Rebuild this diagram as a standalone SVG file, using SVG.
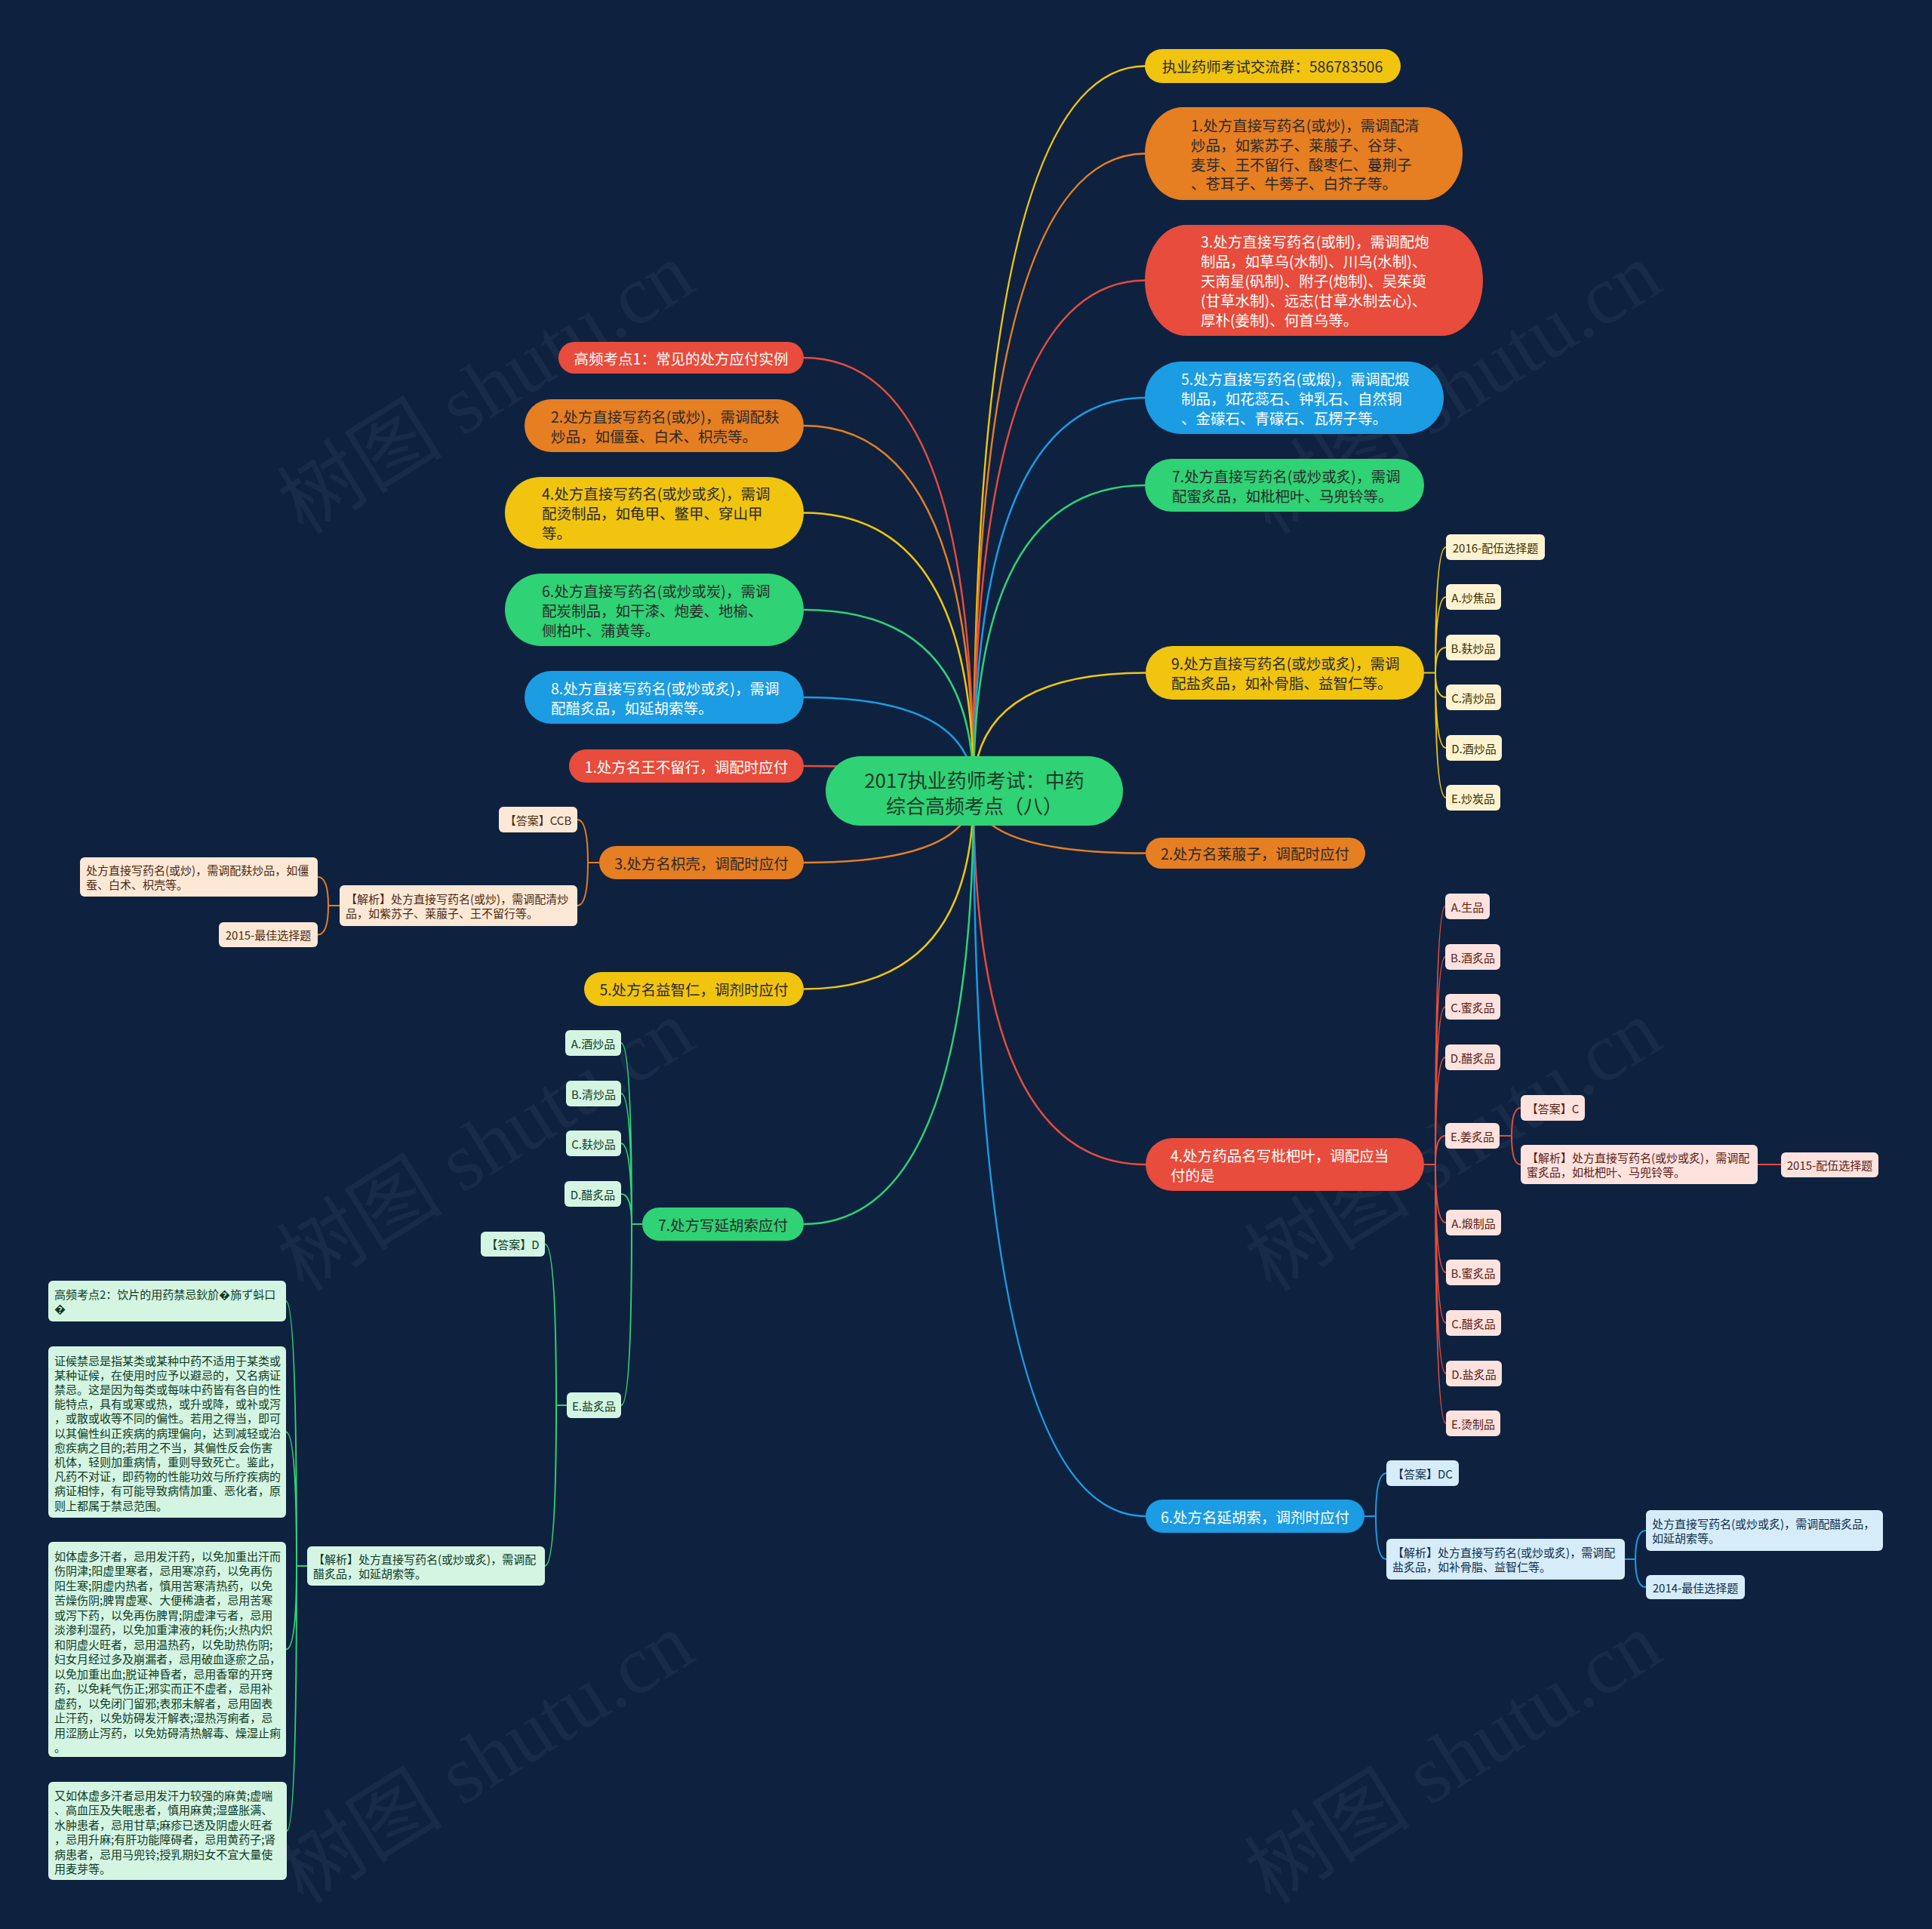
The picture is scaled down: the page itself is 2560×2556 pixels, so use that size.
<svg xmlns="http://www.w3.org/2000/svg" width="2560" height="2556" viewBox="0 0 2560 2556">
<style>
text{font-family:"Noto Sans CJK SC","Liberation Sans",sans-serif;dominant-baseline:central}
.c{fill:none;stroke-width:2.5}
.s{fill:none;stroke-width:2}
.cy{stroke:#f1c40f}.co{stroke:#e67e22}.cr{stroke:#e74c3c}.cb{stroke:#1b9ce3}.cg{stroke:#2fd275}
.fy{fill:#f1c40f}.fo{fill:#e67e22}.fr{fill:#e74c3c}.fb{fill:#1b9ce3}.fg{fill:#2fd275}
.m{font-size:19.5px}.dk{fill:#2a2a2a}.wh{fill:#ffffff}
.mid{text-anchor:middle}
.sub{font-size:15px}
.ly{fill:#fdf3d1}.lo{fill:#fde8d6}.lr{fill:#fde2de}.lb{fill:#d6ecf9}.lg{fill:#d5f5e3}
.ty{fill:#3b3000}.to{fill:#4a2a12}.tr{fill:#5a1c14}.tb{fill:#0d2f4d}.tg{fill:#0d3b24}
.wm{font-family:"Liberation Serif","Noto Sans CJK SC",serif;font-size:110px;fill:#ffffff;fill-opacity:0.045}
</style>
<rect width="2560" height="2556" fill="#0e2240"/>
<g id="watermarks">
<text class="wm mid" transform="translate(644,515) rotate(-32)">树图 shutu.cn</text>
<text class="wm mid" transform="translate(1926,515) rotate(-32)">树图 shutu.cn</text>
<text class="wm mid" transform="translate(644,1518) rotate(-32)">树图 shutu.cn</text>
<text class="wm mid" transform="translate(1926,1518) rotate(-32)">树图 shutu.cn</text>
<text class="wm mid" transform="translate(644,2330) rotate(-32)">树图 shutu.cn</text>
<text class="wm mid" transform="translate(1926,2330) rotate(-32)">树图 shutu.cn</text>
</g>
<g id="connectors">
<path class="c cy" d="M1290,1048 Q1290,87.5 1518,87.5"/>
<path class="c co" d="M1290,1048 Q1290,203.5 1518,203.5"/>
<path class="c cr" d="M1290,1048 Q1290,371.5 1518,371.5"/>
<path class="c cb" d="M1290,1048 Q1290,527 1518,527"/>
<path class="c cg" d="M1290,1048 Q1290,643 1518,643"/>
<path class="c cy" d="M1290,1048 Q1290,891.5 1518,891.5"/>
<path class="c co" d="M1290,1048 Q1290,1130.5 1518,1130.5"/>
<path class="c cr" d="M1290,1048 Q1290,1543 1518,1543"/>
<path class="c cb" d="M1290,1048 Q1290,2009 1518,2009"/>
<path class="c cr" d="M1290,1048 Q1290,474 1065,474"/>
<path class="c co" d="M1290,1048 Q1290,564 1065,564"/>
<path class="c cy" d="M1290,1048 Q1290,679.5 1065,679.5"/>
<path class="c cg" d="M1290,1048 Q1290,808 1065,808"/>
<path class="c cb" d="M1290,1048 Q1290,924 1065,924"/>
<path class="c cr" d="M1290,1048 Q1290,1015 1065,1015"/>
<path class="c co" d="M1290,1048 Q1290,1143 1065,1143"/>
<path class="c cy" d="M1290,1048 Q1290,1310.5 1065,1310.5"/>
<path class="c cg" d="M1290,1048 Q1290,1622 1065,1622"/>
<path class="s cy" d="M1887,891.5 H1902 M1902,891.5 Q1902,725 1916,725 M1902,891.5 Q1902,791 1916,791 M1902,891.5 Q1902,858 1916,858 M1902,891.5 Q1902,924 1916,924 M1902,891.5 Q1902,991 1916,991 M1902,891.5 Q1902,1057 1916,1057"/>
<path class="s cr" d="M1887,1543 H1902 M1902,1543 Q1902,1201 1915,1201 M1902,1543 Q1902,1268 1915,1268 M1902,1543 Q1902,1334 1915,1334 M1902,1543 Q1902,1401 1915,1401 M1902,1543 Q1902,1505 1915,1505 M1902,1543 Q1902,1620 1916,1620 M1902,1543 Q1902,1686 1916,1686 M1902,1543 Q1902,1753 1916,1753 M1902,1543 Q1902,1820 1916,1820 M1902,1543 Q1902,1886 1916,1886"/>
<path class="s cr" d="M1987,1505 H2003 M2003,1505 Q2003,1468 2015,1468 M2003,1505 Q2003,1543 2015,1543 M2329,1543 H2360"/>
<path class="s cb" d="M1808,2009 H1823 M1823,2009 Q1823,1952 1837,1952 M1823,2009 Q1823,2066 1837,2066"/>
<path class="s cb" d="M2153,2066 H2167 M2167,2066 Q2167,2028 2181,2028 M2167,2066 Q2167,2103 2181,2103"/>
<path class="s co" d="M794,1143 H779 M779,1143 Q779,1086 765,1086 M779,1143 Q779,1200 765,1200"/>
<path class="s co" d="M450,1200 H435 M435,1200 Q435,1162 421,1162 M435,1200 Q435,1238.5 421,1238.5"/>
<path class="s cg" d="M851,1622 H837 M837,1622 Q837,1382 823,1382 M837,1622 Q837,1449 823,1449 M837,1622 Q837,1515 823,1515 M837,1622 Q837,1582 823,1582 M837,1622 Q837,1862 823,1862"/>
<path class="s cg" d="M751,1862 H737 M737,1862 Q737,1648.5 722,1648.5 M737,1862 Q737,2075 722,2075"/>
<path class="s cg" d="M407,2075 H393 M393,2075 Q393,1724 379,1724 M393,2075 Q393,1897.5 379,1897.5 M393,2075 Q393,2185.5 379,2185.5 M393,2075 Q393,2426 380,2426"/>
</g>

<g id="center">
<rect x="1094" y="1002" width="394" height="92" rx="46" class="fg"/>
<text x="1291" y="1032" class="mid" font-size="26" fill="#1d3a28">2017执业药师考试：中药</text>
<text x="1291" y="1066" class="mid" font-size="26" fill="#1d3a28">综合高频考点（八）</text>
</g>

<g id="r1"><rect x="1517" y="65" width="339" height="45" rx="22.5" class="fy"/>
<text x="1686" y="87.5" class="m dk mid">执业药师考试交流群：586783506</text></g>
<g id="r2"><rect x="1517" y="142" width="421" height="123" rx="50" ry="61.5" class="fo"/>
<text x="1578" y="165" class="m dk">1.处方直接写药名(或炒)，需调配清</text>
<text x="1578" y="191" class="m dk">炒品，如紫苏子、莱菔子、谷芽、</text>
<text x="1578" y="217" class="m dk">麦芽、王不留行、酸枣仁、蔓荆子</text>
<text x="1578" y="242" class="m dk">、苍耳子、牛蒡子、白芥子等。</text></g>
<g id="r3"><rect x="1517" y="298" width="448" height="147" rx="55" ry="73.5" class="fr"/>
<text x="1591" y="319.5" class="m wh">3.处方直接写药名(或制)，需调配炮</text>
<text x="1591" y="345.5" class="m wh">制品，如草乌(水制)、川乌(水制)、</text>
<text x="1591" y="371.5" class="m wh">天南星(矾制)、附子(炮制)、吴茱萸</text>
<text x="1591" y="397.5" class="m wh">(甘草水制)、远志(甘草水制去心)、</text>
<text x="1591" y="423.5" class="m wh">厚朴(姜制)、何首乌等。</text></g>
<g id="r4"><rect x="1517" y="479" width="396" height="96" rx="48" class="fb"/>
<text x="1565" y="501" class="m wh">5.处方直接写药名(或煅)，需调配煅</text>
<text x="1565" y="527" class="m wh">制品，如花蕊石、钟乳石、自然铜</text>
<text x="1565" y="553" class="m wh">、金礞石、青礞石、瓦楞子等。</text></g>
<g id="r5"><rect x="1517" y="608" width="370" height="70" rx="35" class="fg"/>
<text x="1553" y="630" class="m dk">7.处方直接写药名(或炒或炙)，需调</text>
<text x="1553" y="656" class="m dk">配蜜炙品，如枇杷叶、马兜铃等。</text></g>
<g id="r6"><rect x="1518" y="856" width="369" height="71" rx="35.5" class="fy"/>
<text x="1552" y="878.5" class="m dk">9.处方直接写药名(或炒或炙)，需调</text>
<text x="1552" y="904.5" class="m dk">配盐炙品，如补骨脂、益智仁等。</text></g>
<g id="r7"><rect x="1518" y="1110" width="291" height="41" rx="20.5" class="fo"/>
<text x="1663" y="1130.5" class="m dk mid">2.处方名莱菔子，调配时应付</text></g>
<g id="r8"><rect x="1518" y="1508" width="369" height="70" rx="35" class="fr"/>
<text x="1551" y="1530" class="m wh">4.处方药品名写枇杷叶，调配应当</text>
<text x="1551" y="1556" class="m wh">付的是</text></g>
<g id="r9"><rect x="1518" y="1987" width="290" height="44" rx="22" class="fb"/>
<text x="1663" y="2009" class="m wh mid">6.处方名延胡索，调剂时应付</text></g>

<g id="l1"><rect x="740" y="453" width="325" height="42" rx="21" class="fr"/>
<text x="902.5" y="474" class="m wh mid">高频考点1：常见的处方应付实例</text></g>
<g id="l2"><rect x="695" y="529" width="370" height="70" rx="35" class="fo"/>
<text x="730" y="551" class="m dk">2.处方直接写药名(或炒)，需调配麸</text>
<text x="730" y="577" class="m dk">炒品，如僵蚕、白术、枳壳等。</text></g>
<g id="l3"><rect x="669" y="632" width="396" height="95" rx="47.5" class="fy"/>
<text x="718" y="653.5" class="m dk">4.处方直接写药名(或炒或炙)，需调</text>
<text x="718" y="679.5" class="m dk">配烫制品，如龟甲、鳖甲、穿山甲</text>
<text x="718" y="705.5" class="m dk">等。</text></g>
<g id="l4"><rect x="669" y="760" width="396" height="96" rx="48" class="fg"/>
<text x="718" y="782" class="m dk">6.处方直接写药名(或炒或炭)，需调</text>
<text x="718" y="808" class="m dk">配炭制品，如干漆、炮姜、地榆、</text>
<text x="718" y="834" class="m dk">侧柏叶、蒲黄等。</text></g>
<g id="l5"><rect x="695" y="889" width="370" height="70" rx="35" class="fb"/>
<text x="730" y="911" class="m wh">8.处方直接写药名(或炒或炙)，需调</text>
<text x="730" y="937" class="m wh">配醋炙品，如延胡索等。</text></g>
<g id="l6"><rect x="754" y="993" width="311" height="44" rx="22" class="fr"/>
<text x="909.5" y="1015" class="m wh mid">1.处方名王不留行，调配时应付</text></g>
<g id="l7"><rect x="794" y="1121" width="271" height="44" rx="22" class="fo"/>
<text x="929.5" y="1143" class="m dk mid">3.处方名枳壳，调配时应付</text></g>
<g id="l8"><rect x="774" y="1288" width="291" height="45" rx="22.5" class="fy"/>
<text x="919.5" y="1310.5" class="m dk mid">5.处方名益智仁，调剂时应付</text></g>
<g id="l9"><rect x="851" y="1600" width="214" height="44" rx="22" class="fg"/>
<text x="958" y="1622" class="m dk mid">7.处方写延胡索应付</text></g>

<g id="r6a"><rect x="1916" y="708" width="131" height="34" rx="6" class="ly"/><text x="1981.5" y="725" class="sub ty mid">2016-配伍选择题</text></g>
<g id="r6b"><rect x="1916" y="774" width="73" height="34" rx="6" class="ly"/><text x="1952.5" y="791" class="sub ty mid">A.炒焦品</text></g>
<g id="r6c"><rect x="1916" y="841" width="72" height="34" rx="6" class="ly"/><text x="1952" y="858" class="sub ty mid">B.麸炒品</text></g>
<g id="r6d"><rect x="1916" y="907" width="73" height="34" rx="6" class="ly"/><text x="1952.5" y="924" class="sub ty mid">C.清炒品</text></g>
<g id="r6e"><rect x="1916" y="974" width="74" height="34" rx="6" class="ly"/><text x="1953" y="991" class="sub ty mid">D.酒炒品</text></g>
<g id="r6f"><rect x="1916" y="1040" width="72" height="34" rx="6" class="ly"/><text x="1952" y="1057" class="sub ty mid">E.炒炭品</text></g>

<g id="r8a"><rect x="1915" y="1184" width="59" height="34" rx="6" class="lr"/><text x="1944.5" y="1201" class="sub tr mid">A.生品</text></g>
<g id="r8b"><rect x="1915" y="1251" width="73" height="34" rx="6" class="lr"/><text x="1951.5" y="1268" class="sub tr mid">B.酒炙品</text></g>
<g id="r8c"><rect x="1915" y="1317" width="73" height="34" rx="6" class="lr"/><text x="1951.5" y="1334" class="sub tr mid">C.蜜炙品</text></g>
<g id="r8d"><rect x="1915" y="1384" width="73" height="34" rx="6" class="lr"/><text x="1951.5" y="1401" class="sub tr mid">D.醋炙品</text></g>
<g id="r8e"><rect x="1915" y="1488" width="72" height="34" rx="6" class="lr"/><text x="1951" y="1505" class="sub tr mid">E.姜炙品</text></g>
<g id="r8e1"><rect x="2015" y="1451" width="85" height="34" rx="6" class="lr"/><text x="2057.5" y="1468" class="sub tr mid">【答案】C</text></g>
<g id="r8e2"><rect x="2015" y="1517" width="314" height="52" rx="6" class="lr"/>
<text x="2023" y="1533.5" class="sub tr">【解析】处方直接写药名(或炒或炙)，需调配</text>
<text x="2023" y="1552.5" class="sub tr">蜜炙品，如枇杷叶、马兜铃等。</text></g>
<g id="r8e3"><rect x="2360" y="1527" width="129" height="33" rx="6" class="lr"/><text x="2424.5" y="1543.5" class="sub tr mid">2015-配伍选择题</text></g>
<g id="r8f"><rect x="1916" y="1603" width="73" height="34" rx="6" class="lr"/><text x="1952.5" y="1620" class="sub tr mid">A.煅制品</text></g>
<g id="r8g"><rect x="1916" y="1669" width="72" height="34" rx="6" class="lr"/><text x="1952" y="1686" class="sub tr mid">B.蜜炙品</text></g>
<g id="r8h"><rect x="1916" y="1736" width="73" height="34" rx="6" class="lr"/><text x="1952.5" y="1753" class="sub tr mid">C.醋炙品</text></g>
<g id="r8i"><rect x="1916" y="1803" width="74" height="34" rx="6" class="lr"/><text x="1953" y="1820" class="sub tr mid">D.盐炙品</text></g>
<g id="r8j"><rect x="1916" y="1869" width="72" height="34" rx="6" class="lr"/><text x="1952" y="1886" class="sub tr mid">E.烫制品</text></g>

<g id="r9a"><rect x="1837" y="1935" width="96" height="34" rx="6" class="lb"/><text x="1885" y="1952" class="sub tb mid">【答案】DC</text></g>
<g id="r9b"><rect x="1837" y="2039" width="316" height="54" rx="6" class="lb"/>
<text x="1845" y="2056.5" class="sub tb">【解析】处方直接写药名(或炒或炙)，需调配</text>
<text x="1845" y="2075.5" class="sub tb">盐炙品，如补骨脂、益智仁等。</text></g>
<g id="r9c"><rect x="2181" y="2001" width="314" height="54" rx="6" class="lb"/>
<text x="2189" y="2018.5" class="sub tb">处方直接写药名(或炒或炙)，需调配醋炙品，</text>
<text x="2189" y="2037.5" class="sub tb">如延胡索等。</text></g>
<g id="r9d"><rect x="2181" y="2087" width="131" height="32" rx="6" class="lb"/><text x="2246.5" y="2103" class="sub tb mid">2014-最佳选择题</text></g>

<g id="l7a"><rect x="661" y="1069" width="104" height="34" rx="6" class="lo"/><text x="713" y="1086" class="sub to mid">【答案】CCB</text></g>
<g id="l7b"><rect x="450" y="1173" width="315" height="54" rx="6" class="lo"/>
<text x="458" y="1190.5" class="sub to">【解析】处方直接写药名(或炒)，需调配清炒</text>
<text x="458" y="1209.5" class="sub to">品，如紫苏子、莱菔子、王不留行等。</text></g>
<g id="l7c"><rect x="106" y="1136" width="315" height="52" rx="6" class="lo"/>
<text x="114" y="1152.5" class="sub to">处方直接写药名(或炒)，需调配麸炒品，如僵</text>
<text x="114" y="1171.5" class="sub to">蚕、白术、枳壳等。</text></g>
<g id="l7d"><rect x="290" y="1222" width="131" height="33" rx="6" class="lo"/><text x="355.5" y="1238.5" class="sub to mid">2015-最佳选择题</text></g>

<g id="l9a"><rect x="749" y="1365" width="74" height="34" rx="6" class="lg"/><text x="786" y="1382" class="sub tg mid">A.酒炒品</text></g>
<g id="l9b"><rect x="750" y="1432" width="73" height="34" rx="6" class="lg"/><text x="786.5" y="1449" class="sub tg mid">B.清炒品</text></g>
<g id="l9c"><rect x="750" y="1498" width="73" height="34" rx="6" class="lg"/><text x="786.5" y="1515" class="sub tg mid">C.麸炒品</text></g>
<g id="l9d"><rect x="748" y="1565" width="75" height="34" rx="6" class="lg"/><text x="785.5" y="1582" class="sub tg mid">D.醋炙品</text></g>
<g id="l9e"><rect x="751" y="1845" width="72" height="34" rx="6" class="lg"/><text x="787" y="1862" class="sub tg mid">E.盐炙品</text></g>
<g id="l9e1"><rect x="637" y="1632" width="85" height="33" rx="6" class="lg"/><text x="679.5" y="1648.5" class="sub tg mid">【答案】D</text></g>
<g id="l9e2"><rect x="407" y="2049" width="315" height="52" rx="6" class="lg"/>
<text x="415" y="2065.5" class="sub tg">【解析】处方直接写药名(或炒或炙)，需调配</text>
<text x="415" y="2084.5" class="sub tg">醋炙品，如延胡索等。</text></g>
<g id="l9f1"><rect x="64" y="1697" width="315" height="54" rx="6" class="lg"/>
<text x="72" y="1714.5" class="sub tg">高频考点2：饮片的用药禁忌鈥斺�斾ず蚪口</text>
<text x="72" y="1733.5" class="sub tg">�</text></g>
<g id="l9f2"><rect x="64" y="1784" width="315" height="227" rx="6" class="lg"/>
<text class="sub tg">
<tspan x="72" y="1801.5">证候禁忌是指某类或某种中药不适用于某类或</tspan>
<tspan x="72" y="1820.7">某种证候，在使用时应予以避忌的，又名病证</tspan>
<tspan x="72" y="1839.9">禁忌。这是因为每类或每味中药皆有各自的性</tspan>
<tspan x="72" y="1859.1">能特点，具有或寒或热，或升或降，或补或泻</tspan>
<tspan x="72" y="1878.3">，或散或收等不同的偏性。若用之得当，即可</tspan>
<tspan x="72" y="1897.5">以其偏性纠正疾病的病理偏向，达到减轻或治</tspan>
<tspan x="72" y="1916.7">愈疾病之目的;若用之不当，其偏性反会伤害</tspan>
<tspan x="72" y="1935.9">机体，轻则加重病情，重则导致死亡。鉴此，</tspan>
<tspan x="72" y="1955.1">凡药不对证，即药物的性能功效与所疗疾病的</tspan>
<tspan x="72" y="1974.3">病证相悖，有可能导致病情加重、恶化者，原</tspan>
<tspan x="72" y="1993.5">则上都属于禁忌范围。</tspan>
</text></g>
<g id="l9f3"><rect x="64" y="2043" width="315" height="285" rx="6" class="lg"/>
<text class="sub tg">
<tspan x="72" y="2060.5">如体虚多汗者，忌用发汗药，以免加重出汗而</tspan>
<tspan x="72" y="2080">伤阴津;阳虚里寒者，忌用寒凉药，以免再伤</tspan>
<tspan x="72" y="2099.5">阳生寒;阴虚内热者，慎用苦寒清热药，以免</tspan>
<tspan x="72" y="2119">苦燥伤阴;脾胃虚寒、大便稀溏者，忌用苦寒</tspan>
<tspan x="72" y="2138.5">或泻下药，以免再伤脾胃;阴虚津亏者，忌用</tspan>
<tspan x="72" y="2158">淡渗利湿药，以免加重津液的耗伤;火热内炽</tspan>
<tspan x="72" y="2177.5">和阴虚火旺者，忌用温热药，以免助热伤阴;</tspan>
<tspan x="72" y="2197">妇女月经过多及崩漏者，忌用破血逐瘀之品，</tspan>
<tspan x="72" y="2216.5">以免加重出血;脱证神昏者，忌用香窜的开窍</tspan>
<tspan x="72" y="2236">药，以免耗气伤正;邪实而正不虚者，忌用补</tspan>
<tspan x="72" y="2255.5">虚药，以免闭门留邪;表邪未解者，忌用固表</tspan>
<tspan x="72" y="2275">止汗药，以免妨碍发汗解表;湿热泻痢者，忌</tspan>
<tspan x="72" y="2294.5">用涩肠止泻药，以免妨碍清热解毒、燥湿止痢</tspan>
<tspan x="72" y="2314">。</tspan>
</text></g>
<g id="l9f4"><rect x="64" y="2361" width="316" height="130" rx="6" class="lg"/>
<text class="sub tg">
<tspan x="72" y="2377.5">又如体虚多汗者忌用发汗力较强的麻黄;虚喘</tspan>
<tspan x="72" y="2397">、高血压及失眠患者，慎用麻黄;湿盛胀满、</tspan>
<tspan x="72" y="2416.5">水肿患者，忌用甘草;麻疹已透及阴虚火旺者</tspan>
<tspan x="72" y="2436">，忌用升麻;有肝功能障碍者，忌用黄药子;肾</tspan>
<tspan x="72" y="2455.5">病患者，忌用马兜铃;授乳期妇女不宜大量使</tspan>
<tspan x="72" y="2475">用麦芽等。</tspan>
</text></g>
</svg>
